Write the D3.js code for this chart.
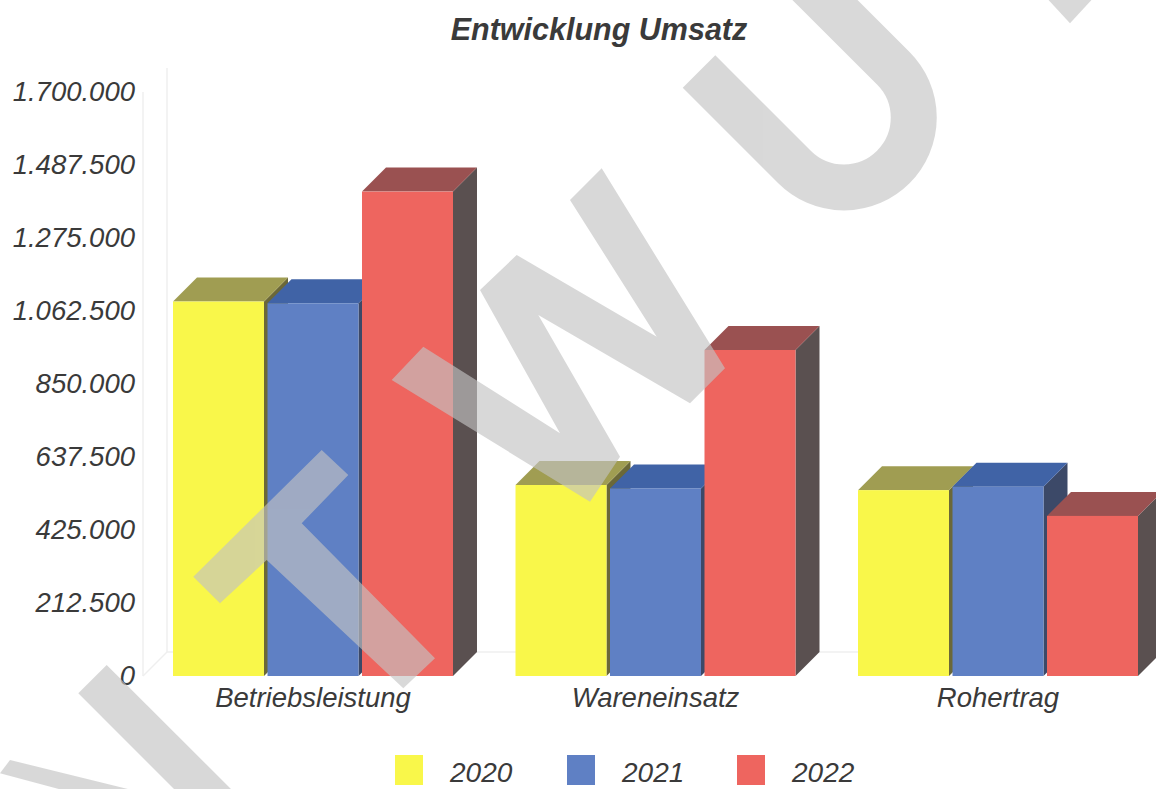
<!DOCTYPE html>
<html>
<head>
<meta charset="utf-8">
<script src="https://cdn.jsdelivr.net/npm/d3@7"></script>
<style>
  body { margin: 0; background: #fff; }
  svg { display: block; font-family: "Liberation Sans", Arial, sans-serif; }
</style>
</head>
<body>
<div id="chart"></div>
<script>
// chart data
const categories = ['Betriebsleistung', 'Wareneinsatz', 'Rohertrag'];
const years = ['2020', '2021', '2022'];
const values2020 = [1090000, 556000, 541000];
const values2021 = [1085000, 546000, 551000];
const values2022 = [1410000, 949000, 466000];
const yTicks = [0, 212500, 425000, 637500, 850000, 1062500, 1275000, 1487500, 1700000];
const title = 'Entwicklung Umsatz';

const series = [values2020, values2021, values2022];

const width = 1156,
    height = 789,
    depth = 24,
    textColor = '#3a3a3a';

// front / top / side shade per year
const colors = {
    '2020': { front: '#f9f74a', top: '#a09d52', side: '#6b6838' },
    '2021': { front: '#5f80c4', top: '#4063a6', side: '#3c4968' },
    '2022': { front: '#ee655f', top: '#9a5151', side: '#5a5050' }
};

const de = d3.formatLocale({ decimal: ',', thousands: '.', grouping: [3], currency: ['', ' €'] });
const fmt = de.format(',');

const svg = d3.select('#chart')
    .append('svg')
    .attr('width', width)
    .attr('height', height);

const x = d3.scaleBand()
    .domain(categories)
    .range([173, 1138])
    .paddingInner(0.1825)
    .paddingOuter(0);

const xs = d3.scaleBand()
    .domain(years)
    .range([0, x.bandwidth()])
    .paddingInner(0.037);

const y = d3.scaleLinear()
    .domain([0, 1700000])
    .range([676, 92]);

// faint wall and floor
const frame = svg.append('g')
    .attr('stroke', '#efefef')
    .attr('stroke-width', 1.5)
    .attr('fill', 'none');
frame.append('line').attr('x1', 167).attr('x2', 167).attr('y1', 68).attr('y2', y(0) - depth);
frame.append('line').attr('x1', 143).attr('x2', 143).attr('y1', 92).attr('y2', y(0));
frame.append('line').attr('x1', 167).attr('x2', width).attr('y1', y(0) - depth).attr('y2', y(0) - depth);
frame.append('line').attr('x1', 143).attr('x2', 167).attr('y1', y(0)).attr('y2', y(0) - depth);

// y axis labels
const yAxis = svg.append('g')
    .attr('transform', 'translate(135,0)')
    .call(d3.axisLeft(y).tickValues(yTicks).tickFormat(fmt).tickSize(0).tickPadding(0));
yAxis.select('.domain').remove();
yAxis.selectAll('text')
    .attr('fill', textColor)
    .style('font-size', '27.5px')
    .style('font-style', 'italic');

// category labels
const xAxis = svg.append('g')
    .attr('transform', `translate(0,${y(0)})`)
    .call(d3.axisBottom(x).tickSize(0).tickPadding(0));
xAxis.select('.domain').remove();
xAxis.selectAll('text')
    .attr('dy', null)
    .attr('y', 31)
    .attr('fill', textColor)
    .style('font-size', '27.5px')
    .style('font-style', 'italic');

// 3d bars
const bars = [];
categories.forEach((c, i) => {
    years.forEach((yr, j) => {
        bars.push({ cat: c, year: yr, value: series[j][i] });
    });
});

const barG = svg.append('g')
    .selectAll('g')
    .data(bars)
    .join('g');

barG.each(function(d) {
    const g = d3.select(this),
        x0 = x(d.cat) + xs(d.year),
        w = xs.bandwidth(),
        yt = y(d.value),
        yb = y(0),
        col = colors[d.year];

    g.append('polygon')
        .attr('fill', col.side)
        .attr('points', [[x0 + w, yt], [x0 + w + depth, yt - depth], [x0 + w + depth, yb - depth], [x0 + w, yb]].join(' '));
    g.append('polygon')
        .attr('fill', col.top)
        .attr('points', [[x0, yt], [x0 + depth, yt - depth], [x0 + w + depth, yt - depth], [x0 + w, yt]].join(' '));
    g.append('rect')
        .attr('x', x0)
        .attr('y', yt)
        .attr('width', w)
        .attr('height', yb - yt)
        .attr('fill', col.front);
});

// title
svg.append('text')
    .attr('x', 599)
    .attr('y', 40)
    .attr('text-anchor', 'middle')
    .attr('fill', textColor)
    .style('font-size', '30.5px')
    .style('font-weight', 'bold')
    .style('font-style', 'italic')
    .text(title);

// legend
const legendX = [395, 567, 737];
const legend = svg.append('g')
    .selectAll('g')
    .data(years)
    .join('g')
    .attr('transform', (d, i) => `translate(${legendX[i]},755)`);
legend.append('rect')
    .attr('width', 28)
    .attr('height', 30)
    .attr('fill', d => colors[d].front);
legend.append('text')
    .attr('x', 55)
    .attr('y', 27)
    .attr('fill', textColor)
    .style('font-size', '28px')
    .style('font-style', 'italic')
    .text(d => d);

// watermark overlay
const wm = svg.append('g')
    .attr('opacity', 0.64)
    .attr('fill', '#c3c3c3');

const wmPolys = [
    // W
    [[391.7, 380], [423.3, 346.7], [560, 433.3], [480, 290], [516.7, 255], [656.7, 336.7], [570, 200],
     [601.7, 168.3], [725, 368.3], [690, 403.3], [538.3, 315], [620, 456.7], [590, 501.7]],
    // T
    [[193.3, 576.7], [321.7, 450], [348.3, 475], [301.7, 523.3], [435, 658.3], [403.3, 688.3], [266.7, 560], [220, 603.3]],
    // N pieces
    [[78.3, 693.3], [106.7, 665], [250, 808], [193, 808]],
    [[0, 773.3], [10, 760], [140, 792], [70, 792]],
    // tip top right
    [[1046.7, -2], [1093.3, -2], [1070, 23.3]]
];
wm.selectAll('polygon')
    .data(wmPolys)
    .join('polygon')
    .attr('points', d => d.join(' '));

// U
wm.append('path')
    .attr('fill', 'none')
    .attr('stroke', '#c3c3c3')
    .attr('stroke-width', 46)
    .attr('d', 'M699,71.6 L794.5,167 A69.8,69.8 0 0 0 893.3,68.2 L794.9,-30');
</script>
</body>
</html>
